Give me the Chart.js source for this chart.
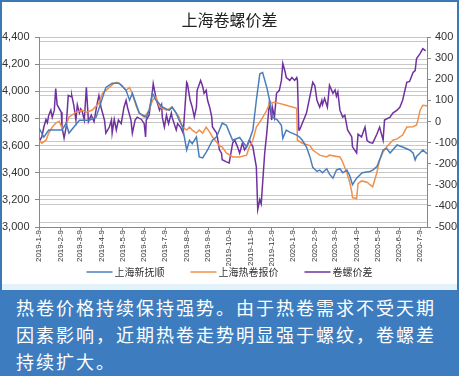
<!DOCTYPE html>
<html>
<head>
<meta charset="utf-8">
<script src="https://cdn.jsdelivr.net/npm/chart.js@4.4.1/dist/chart.umd.min.js"></script>
<style>
    body { margin: 0; background: #fff; }
    #frame { position: relative; width: 459px; height: 376px; box-sizing: border-box; border-top: 2px solid #3a78b8; border-left: 2px solid #3a78b8; border-right: 2px solid #3a78b8; }
    #chart-box { position: absolute; left: 0; top: 0; width: 455px; height: 282px; }
    #strip { position: absolute; left: 0; top: 282px; width: 455px; height: 6px; background: #e2f2f8; }
    #note { position: absolute; left: -2px; top: 288px; width: 459px; height: 86px; box-sizing: border-box; background: #3d7dbf; color: #fff;
            font-family: "Noto Sans CJK SC", sans-serif; font-size: 18px; line-height: 27px; letter-spacing: 2px; padding: 4px 0 0 16px; }
</style>
</head>
<body>
<div id="frame">
    <div id="chart-box"><canvas id="chart"></canvas></div>
    <div id="strip"></div>
    <div id="note">热卷价格持续保持强势。由于热卷需求不受天期<br>因素影响，近期热卷走势明显强于螺纹，卷螺差<br>持续扩大。</div>
</div>
<script>
// days counted from 2019-1-9
const monthDays = [0, 31, 59, 90, 120, 151, 181, 212, 243, 273, 304, 334, 365, 396, 425, 456, 486, 517, 547];
const monthLabels = ['2019-1-9', '2019-2-9', '2019-3-9', '2019-4-9', '2019-5-9', '2019-6-9', '2019-7-9', '2019-8-9',
    '2019-9-9', '2019-10-9', '2019-11-9', '2019-12-9', '2020-1-9', '2020-2-9', '2020-3-9', '2020-4-9', '2020-5-9',
    '2020-6-9', '2020-7-9'];

// 上海新抚顺 (left axis)
const rebarDays = [0, 7, 14, 33, 39, 43, 58, 72, 82, 96, 105, 115, 125, 130, 134, 144, 154, 158, 163, 168, 177, 187, 191,
    197, 201, 206, 212, 216, 220, 226, 230, 235, 242, 249, 255, 259, 263, 269, 273, 278, 288, 298, 302, 307, 312, 317,
    321, 327, 331, 335, 342, 348, 350, 355, 360, 370, 374, 378, 384, 389, 393, 399, 403, 407, 413, 417, 422, 427, 432,
    436, 442, 446, 450, 456, 464, 475, 479, 485, 489, 494, 499, 504, 514, 522, 532, 537, 540, 542, 547, 551, 557];
const rebarPrice = [3730, 3663, 3715, 3715, 3766, 3693, 3788, 3788, 3810, 4030, 4060, 4060, 4008, 3935, 3985, 3840, 3810,
    3860, 3985, 3935, 3885, 3860, 3885, 3840, 3790, 3740, 3568, 3640, 3615, 3665, 3517, 3510, 3568, 3640, 3665, 3715,
    3766, 3750, 3700, 3640, 3660, 3590, 3640, 3715, 3935, 4130, 4140, 4030, 3935, 3810, 3790, 3750, 3655, 3715, 3700,
    3678, 3664, 3640, 3590, 3517, 3440, 3410, 3420, 3400, 3430, 3390, 3360, 3420, 3430, 3400, 3420, 3380, 3312, 3360,
    3400, 3410, 3420, 3445, 3495, 3568, 3580, 3546, 3605, 3590, 3568, 3546, 3495, 3520, 3546, 3568, 3540];

// 上海热卷报价 (left axis)
const coilDays = [0, 4, 10, 14, 19, 24, 29, 33, 39, 43, 53, 62, 68, 76, 86, 91, 101, 108, 112, 119, 125, 130, 134, 140,
    144, 151, 158, 163, 168, 173, 183, 191, 201, 206, 212, 216, 220, 226, 230, 235, 240, 245, 249, 255, 259, 263, 269,
    278, 288, 298, 302, 307, 312, 319, 327, 331, 338, 345, 355, 360, 370, 371, 378, 389, 393, 399, 403, 413, 417, 432,
    435, 442, 446, 449, 450, 456, 458, 463, 471, 475, 479, 485, 489, 494, 499, 508, 514, 522, 528, 537, 542, 544, 547,
    551, 557];
const coilPrice = [3640, 3618, 3640, 3693, 3737, 3766, 3780, 3730, 3750, 3810, 3847, 3861, 3847, 3861, 3912, 3985, 4030,
    4060, 4067, 4045, 4008, 4030, 3985, 3885, 3840, 3810, 3860, 3935, 3960, 3885, 3861, 3885, 3810, 3737, 3715, 3737,
    3715, 3693, 3715, 3693, 3737, 3700, 3664, 3627, 3600, 3590, 3546, 3517, 3517, 3530, 3590, 3640, 3737, 3790, 3861,
    3912, 3920, 3912, 3898, 3890, 3876, 3640, 3618, 3600, 3568, 3546, 3530, 3517, 3530, 3517, 3490, 3400, 3330, 3260,
    3217, 3210, 3320, 3340, 3330, 3312, 3297, 3400, 3495, 3554, 3590, 3640, 3650, 3678, 3737, 3740, 3752, 3790, 3860,
    3898, 3895];

// 卷螺价差 (right axis)
const spreadDays = [0, 4, 7, 10, 12, 14, 17, 19, 22, 24, 26, 32, 33, 36, 39, 42, 46, 47, 50, 53, 55, 58, 60, 62, 65, 68,
    71, 75, 79, 83, 86, 89, 94, 96, 101, 104, 105, 108, 111, 114, 118, 122, 125, 127, 132, 134, 138, 141, 147, 151, 153,
    154, 158, 163, 164, 168, 173, 176, 177, 180, 183, 186, 190, 191, 197, 199, 203, 207, 212, 213, 217, 220, 223, 226,
    227, 232, 235, 237, 240, 242, 245, 248, 249, 255, 256, 259, 262, 263, 269, 273, 278, 281, 285, 288, 292, 295, 298,
    302, 307, 312, 314, 317, 319, 324, 327, 331, 334, 335, 338, 341, 345, 348, 350, 353, 355, 360, 363, 367, 370, 371,
    373, 374, 384, 393, 396, 399, 403, 406, 407, 410, 414, 417, 422, 425, 427, 429, 432, 436, 439, 443, 449, 450, 456,
    458, 463, 468, 471, 475, 479, 485, 489, 494, 496, 504, 508, 514, 518, 522, 528, 532, 537, 540, 542, 547, 551, 555];
const spreadValue = [-95, -73, -26, 10, -5, 30, 54, 20, 54, 157, 80, 44, -26, -78, -26, 124, 118, 124, 77, 7, 80, 40, 60,
    48, 7, 162, 0, 30, 0, 77, 124, 68, 7, -55, -26, 7, -55, 10, -40, 7, -10, 68, 101, 68, 7, -55, 7, 21, 10, -10, -73,
    7, 30, 148, 180, 110, 54, 80, 21, -26, 30, -10, 40, 21, -40, -10, -26, -55, 186, 180, 101, 68, 21, 68, 148, 195,
    166, 134, 148, 101, 68, 21, -26, -55, -73, -134, -150, -181, -191, -196, -102, -88, -120, -150, -102, -134, -120,
    -88, -120, -215, -417, -370, -390, -149, -55, 101, 7, 68, 21, 134, 148, 195, 275, 240, 209, 195, 209, 195, 209,
    195, -40, -40, 40, 186, 170, 101, 68, 101, 80, 110, 68, 172, 134, 150, 120, 140, 54, 21, 30, -40, -73, -120, -149,
    -60, -73, -26, -90, -100, -102, -60, -26, -88, 7, 21, 40, 54, 68, 101, 186, 190, 233, 242, 299, 322, 346, 335];

const toPoints = (days, vals) => days.map((d, i) => ({ x: d, y: vals[i] }));

function lineSet(label, data, color, axis) {
    return {
        label: label,
        data: data,
        borderColor: color,
        backgroundColor: color,
        borderWidth: 1.5,
        pointRadius: 0,
        tension: 0,
        yAxisID: axis
    };
}

// small excel-like legend drawn in the space kept by layout.padding.bottom,
// so the rotated date labels can sit close to it
const lineLegend = {
    id: 'lineLegend',
    afterDraw(chart) {
        const ctx = chart.ctx;
        ctx.save();
        ctx.font = '10px "Noto Sans CJK SC", sans-serif';
        const items = chart.data.datasets.map(ds => ({
            label: ds.label,
            color: ds.borderColor,
            w: 28 + ctx.measureText(ds.label).width
        }));
        const gap = 26;
        const total = items.reduce((s, it) => s + it.w, 0) + gap * (items.length - 1);
        let x = (chart.width - total) / 2;
        const y = chart.height - 12;
        items.forEach(it => {
            ctx.strokeStyle = it.color;
            ctx.lineWidth = 1.5;
            ctx.beginPath();
            ctx.moveTo(x, y);
            ctx.lineTo(x + 26, y);
            ctx.stroke();
            ctx.fillStyle = '#333';
            ctx.textBaseline = 'middle';
            ctx.fillText(it.label, x + 28, y);
            x += it.w + gap;
        });
        ctx.restore();
    }
};

const tickFont = { family: '"Liberation Sans", Arial, sans-serif', size: 11 };

new Chart(document.getElementById('chart'), {
    type: 'line',
    data: {
        datasets: [
            lineSet('上海新抚顺', toPoints(rebarDays, rebarPrice), '#4a7ebb', 'y'),
            lineSet('上海热卷报价', toPoints(coilDays, coilPrice), '#f0904a', 'y'),
            lineSet('卷螺价差', toPoints(spreadDays, spreadValue), '#7031a0', 'y1')
        ]
    },
    plugins: [lineLegend],
    options: {
        responsive: true,
        maintainAspectRatio: false,
        animation: false,
        layout: { padding: { bottom: 16 } },
        plugins: {
            title: {
                display: true,
                text: '上海卷螺价差',
                color: '#222',
                font: { family: '"Noto Sans CJK SC", sans-serif', size: 16, weight: 'normal' },
                padding: { top: 8, bottom: 8 }
            },
            legend: { display: false },
            tooltip: { enabled: false }
        },
        scales: {
            x: {
                type: 'linear',
                min: 0,
                max: 557,
                afterBuildTicks: s => { s.ticks = monthDays.map(v => ({ value: v })); },
                afterFit: s => { s.height = 41; },
                ticks: {
                    autoSkip: false,
                    maxRotation: 90,
                    minRotation: 90,
                    padding: 0,
                    color: '#333',
                    font: { family: tickFont.family, size: 8 },
                    callback: (v, i) => monthLabels[i]
                },
                grid: { drawOnChartArea: false, tickLength: 3, color: '#888' },
                border: { color: '#888' }
            },
            y: {
                position: 'left',
                min: 3000,
                max: 4400,
                // excel-style faint triple lines around each major value
                afterBuildTicks: s => {
                    const t = [];
                    for (let v = 3000; v <= 4400; v += 200) {
                        [v - 32, v, v + 32].forEach(k => { if (k >= 3000 && k <= 4400) t.push({ value: k }); });
                    }
                    s.ticks = t;
                },
                afterFit: s => { s.width = 37; },
                ticks: {
                    autoSkip: false,
                    crossAlign: 'far',
                    color: '#333',
                    font: tickFont,
                    callback: v => (v % 200 === 0 ? v.toLocaleString('en-US') : '')
                },
                grid: {
                    color: '#c8c8c8',
                    tickLength: 4,
                    tickColor: c => (c.tick && c.tick.value % 200 === 0 ? '#888' : 'rgba(0,0,0,0)')
                },
                border: { color: '#888' }
            },
            y1: {
                position: 'right',
                min: -500,
                max: 400,
                afterFit: s => { s.width = 30; },
                ticks: { stepSize: 100, color: '#333', font: tickFont, padding: 4 },
                grid: { drawOnChartArea: false, tickLength: 4, color: '#888' },
                border: { color: '#888' }
            }
        }
    }
});
</script>
</body>
</html>
